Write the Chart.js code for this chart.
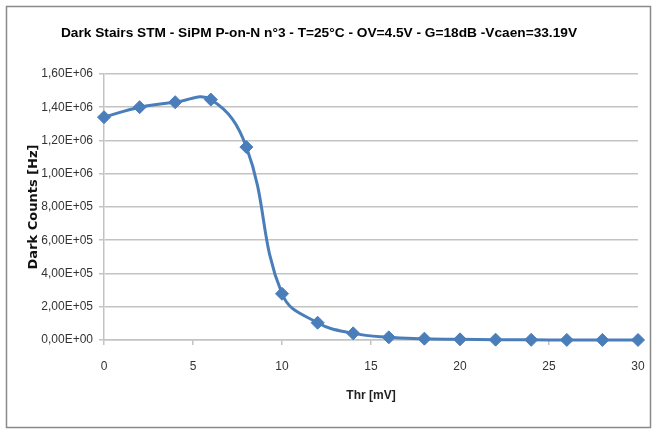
<!DOCTYPE html>
<html>
<head>
<meta charset="utf-8">
<script src="https://cdn.jsdelivr.net/npm/chart.js@4.4.0/dist/chart.umd.min.js"></script>
<style>
  html, body { margin: 0; padding: 0; background: #fff; }
  canvas { display: block; }
</style>
</head>
<body>
<canvas id="stairs" width="653" height="430"></canvas>
<script>
// Data
const thresholds = [0, 2, 4, 6, 8, 10, 12, 14, 16, 18, 20, 22, 24, 26, 28, 30];
const darkCounts = [1.34e6, 1.40e6, 1.43e6, 1.446e6, 1.16e6, 2.78e5, 1.04e5, 4.0e4, 1.6e4, 8e3, 4e3, 2e3, 1e3, 5e2, 3e2, 2e2];
const yTicks = [0, 2e5, 4e5, 6e5, 8e5, 1e6, 1.2e6, 1.4e6, 1.6e6];

const sans = "'Liberation Sans', Arial, sans-serif";
const blue = "#4a7ebb";
const gridGray = "#c3c3c3";

// "1,60E+06" style labels like Excel (French locale)
const sci = (v) => {
  const [m, e] = Number(v).toExponential(2).split("e");
  const sign = e[0] === "-" ? "-" : "+";
  const exp = e.replace(/[+-]/, "").padStart(2, "0");
  return m.replace(".", ",") + "E" + sign + exp;
};

// White background + gray frame around the chart
const frame = {
  id: "frame",
  beforeDraw(chart) {
    const ctx = chart.ctx;
    ctx.save();
    ctx.fillStyle = "#fff";
    ctx.fillRect(0, 0, chart.width, chart.height);
    ctx.strokeStyle = "#8a8a8a";
    ctx.lineWidth = 1.5;
    ctx.strokeRect(6.5, 6.5, 644, 421);
    ctx.restore();
  },
};

new Chart(document.getElementById("stairs"), {
  type: "line",
  data: {
    datasets: [
      {
        data: thresholds.map((t, i) => ({ x: t, y: darkCounts[i] })),
        borderColor: blue,
        backgroundColor: blue,
        borderWidth: 3,
        tension: 0.42,
        pointStyle: "rectRot",
        pointRadius: 6.5,
        pointBorderWidth: 1,
        pointBackgroundColor: blue,
        pointBorderColor: blue,
        clip: false,
      },
    ],
  },
  options: {
    responsive: false,
    animation: false,
    layout: {
      padding: { left: 0, right: 15, top: 25, bottom: 23 },
    },
    plugins: {
      legend: { display: false },
      tooltip: { enabled: false },
      title: {
        display: true,
        text: "Dark Stairs STM - SiPM P-on-N n°3 - T=25°C - OV=4.5V - G=18dB -Vcaen=33.19V",
        color: "#000",
        font: { family: sans, size: 13.7, weight: "bold" },
        padding: { top: 0, bottom: 32.5 },
      },
    },
    scales: {
      x: {
        type: "linear",
        min: 0,
        max: 30,
        afterFit: (scale) => {
          scale.height = 67;
          scale.paddingRight = 0;
        },
        ticks: {
          stepSize: 5,
          color: "#333",
          padding: 14,
          font: { family: sans, size: 12 },
        },
        grid: {
          drawOnChartArea: false,
          drawTicks: true,
          tickLength: 5,
          color: gridGray,
          lineWidth: 1.5,
        },
        border: { display: true, color: gridGray, width: 1.5 },
        title: {
          display: true,
          text: "Thr [mV]",
          color: "#222",
          font: { family: sans, size: 12, weight: "bold" },
        },
      },
      y: {
        min: 0,
        max: 1.6e6,
        afterFit: (scale) => { scale.width = 104; },
        afterBuildTicks: (scale) => { scale.ticks = yTicks.map((v) => ({ value: v })); },
        ticks: {
          color: "#333",
          padding: 6,
          font: { family: sans, size: 12 },
          callback: (v) => sci(v),
        },
        grid: {
          color: gridGray,
          lineWidth: 1.5,
          tickLength: 5,
        },
        border: { display: true, color: gridGray, width: 1.5 },
        title: {
          display: true,
          text: "Dark Counts [Hz]",
          color: "#111",
          padding: { top: 26, bottom: 4 },
          font: { family: "'DejaVu Sans', sans-serif", size: 13, weight: "bold" },
        },
      },
    },
  },
  plugins: [frame],
});
</script>
</body>
</html>
